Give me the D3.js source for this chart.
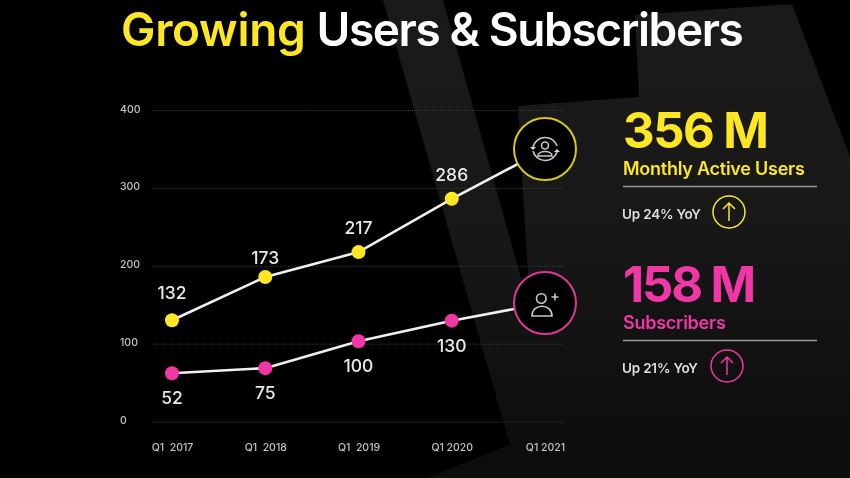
<!DOCTYPE html>
<html>
  <head>
    <meta charset="utf-8">
    <style>
      html, body { margin: 0; padding: 0; background: #000; overflow: hidden; }
      svg { display: block; filter: blur(0.6px); }
      text { font-family: Inter, "Noto Sans", sans-serif; }
      .grid line { stroke: #3a3a3a; stroke-width: 1; stroke-dasharray: 1 1; }
      .grid path { stroke-width: 0; }
      .axisText text { fill: #c4c4c4; font-size: 10.5px; font-weight: 500; white-space: pre; }
      .axisText line, .axisText path { stroke: none; }
      .line { fill: none; stroke: #f0f0f0; stroke-width: 2.6px; }
      .value { fill: #e8e8e8; font-size: 17.5px; font-weight: 500; text-anchor: middle; }
      .icon { fill: none; stroke: #c8c8c8; stroke-width: 1.6px; }
    </style>
    <script src="https://d3js.org/d3.v7.min.js"></script>
  </head>
  <body>
    <script type="text/javascript">
      var quarters = ["Q1  2017", "Q1  2018", "Q1  2019", "Q1 2020", "Q1 2021"];
      var yTicks = [0, 100, 200, 300, 400];

      // the slide's points do not sit exactly at their printed numbers,
      // so what is plotted and what is printed are kept apart
      var usersPlotted = [130, 185.5, 217.5, 286, 349];
      var usersLabels = [132, 173, 217, 286];
      var subsPlotted = [62, 68.5, 103, 129.5, 152];
      var subsLabels = [52, 75, 100, 130];

      var yellow = "#fde725", pink = "#f037a5";

      var svg = d3.select("body").append("svg").attr("width", 850).attr("height", 478);

      var x = d3.scalePoint().domain(quarters).range([172, 545]);
      var y = d3.scaleLinear().domain([0, 400]).range([421.5, 110]);

      // background shape
      var defs = svg.append("defs");
      var grad = defs.append("linearGradient").attr("id", "bg").attr("x1", 0).attr("y1", 0).attr("x2", 0).attr("y2", 1);
      grad.append("stop").attr("offset", "0%").attr("stop-color", "#1a1a1a");
      grad.append("stop").attr("offset", "45%").attr("stop-color", "#181818");
      grad.append("stop").attr("offset", "85%").attr("stop-color", "#0f0f0f");
      grad.append("stop").attr("offset", "100%").attr("stop-color", "#0c0c0c");

      svg.append("rect").attr("width", 850).attr("height", 478).attr("fill", "#000");
      svg.append("path")
        .attr("d", "M383,0 L443,0 L530,310 L518,106 L639,97 L635,15 L792,4 L850,157 L850,478 L427,478 L510,445 Z")
        .attr("fill", "url(#bg)");

      // title
      var title = svg.append("text").attr("x", 121).attr("y", 46)
        .style("font-size", "46px").style("font-weight", 600);
      title.append("tspan").attr("fill", yellow).style("letter-spacing", "-0.3px").text("Growing");
      title.append("tspan").attr("fill", "#fff").attr("dx", 11).style("letter-spacing", "-1.4px").text("Users & Subscribers");

      // gridlines
      svg.append("g")
        .attr("class", "grid")
        .attr("transform", "translate(563,0)")
        .call(d3.axisLeft(y).tickValues(yTicks).tickSize(411).tickFormat(""));

      // axis labels
      var yAxis = svg.append("g")
        .attr("class", "axisText")
        .attr("transform", "translate(120,0)")
        .call(d3.axisLeft(y).tickValues(yTicks).tickSize(0).tickPadding(0));
      yAxis.selectAll("text").attr("text-anchor", "start").attr("dy", "0.2em");
      yAxis.select(".domain").remove();

      var xAxis = svg.append("g")
        .attr("class", "axisText")
        .attr("transform", "translate(0,441)")
        .call(d3.axisBottom(x).tickSize(0).tickPadding(3));
      xAxis.select(".domain").remove();

      var line = d3.line()
        .x(function(d, i) { return x(quarters[i]); })
        .y(function(d) { return y(d); });

      function series(values, labels, color, dy) {
        svg.append("path").datum(values).attr("class", "line").attr("d", line);

        svg.selectAll(null)
          .data(values.slice(0, labels.length))
          .enter().append("circle")
          .attr("cx", function(d, i) { return x(quarters[i]); })
          .attr("cy", function(d) { return y(d); })
          .attr("r", 7)
          .attr("fill", color);

        svg.selectAll(null)
          .data(labels)
          .enter().append("text")
          .attr("class", "value")
          .attr("x", function(d, i) { return x(quarters[i]); })
          .attr("y", function(d, i) { return y(values[i]) + dy(i); })
          .text(function(d) { return d; });
      }

      series(usersPlotted, usersLabels, yellow, function(i) { return i == 1 ? -13 : (i == 0 ? -21 : -18); });
      series(subsPlotted, subsLabels, pink, function() { return 31; });

      // end badges
      function badge(cy, color) {
        return svg.append("g").attr("transform", "translate(" + x(quarters[4]) + "," + cy + ")")
          .call(function(g) {
            g.append("circle").attr("r", 31).attr("fill", "#000").attr("stroke", color).attr("stroke-width", 2);
          });
      }

      var usersBadge = badge(149, "#d6c61d");
      usersBadge.append("circle").attr("class", "icon").attr("cy", -3.5).attr("r", 3.5);
      usersBadge.append("path").attr("class", "icon").attr("d", "M-7,7 C-7,1 7,1 7,7 Z");
      usersBadge.append("path").attr("class", "icon").attr("d", "M-12,-2 A12.5,12.5 0 0 1 12,-3");
      usersBadge.append("path").attr("class", "icon").attr("d", "M12,3 A12.5,12.5 0 0 1 -12,2");
      usersBadge.append("path").attr("fill", "#d8d8d8").attr("d", "M-15,-2 L-9,-2 L-12,1 Z");
      usersBadge.append("path").attr("fill", "#d8d8d8").attr("d", "M9,3 L15,3 L12,0 Z");

      var subsBadge = badge(303, "#d93a98");
      subsBadge.append("circle").attr("class", "icon").attr("cx", -3.7).attr("cy", -4.5).attr("r", 4.8);
      subsBadge.append("path").attr("class", "icon").attr("d", "M-13,13 C-13,0 7,0 7,13 Z");
      subsBadge.append("path").attr("class", "icon").attr("d", "M6.5,-6 H13.5 M10,-9.5 V-2.5");

      // right hand stats
      function stat(big, name, up, color, top, arrowX, bigSpacing) {
        var g = svg.append("g").attr("transform", "translate(623," + top + ")");
        g.append("text").attr("y", 36).attr("fill", color)
          .style("font-size", "49px").style("font-weight", 700).style("letter-spacing", bigSpacing + "px").text(big);
        g.append("text").attr("y", 63).attr("fill", color)
          .style("font-size", "18px").style("font-weight", 600).style("letter-spacing", "-0.25px").text(name);
        g.append("line").attr("x1", 0).attr("x2", 194).attr("y1", 74.5).attr("y2", 74.5)
          .attr("stroke", "#999").attr("stroke-width", 1.5);
        g.append("text").attr("x", -1).attr("y", 107).attr("fill", "#ddd")
          .style("font-size", "13.5px").style("font-weight", 600).style("letter-spacing", "-0.2px").text(up);
        g.append("circle").attr("cx", arrowX).attr("cy", 100).attr("r", 16)
          .attr("fill", "none").attr("stroke", color).attr("stroke-width", 1.5);
        g.append("path").attr("fill", "none").attr("stroke", color).attr("stroke-width", 1.5)
          .attr("d", "M" + arrowX + ",109 V91 M" + (arrowX - 6) + ",97 L" + arrowX + ",91 L" + (arrowX + 6) + ",97");
      }

      stat("356 M", "Monthly Active Users", "Up 24% YoY", yellow, 112, 106, -1.5);
      stat("158 M", "Subscribers", "Up 21% YoY", pink, 266, 104, -2.1);
    </script>
  </body>
</html>
